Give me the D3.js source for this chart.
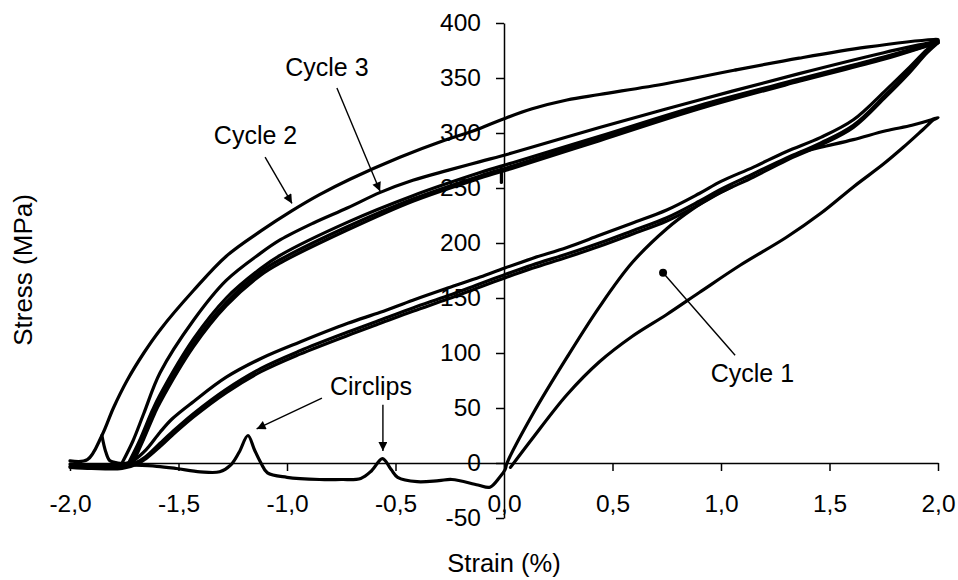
<html>
<meta charset="UTF-8">
<head>
    <title>Stress - strain cycles</title>
    <script src="https://d3js.org/d3.v7.min.js"></script>
    <style>
        body {
            margin: 0;
            background: white;
            font-family: "Liberation Sans", Arial, sans-serif;
        }
        .axis path, .axis line {
            stroke: black;
            stroke-width: 1.5px;
        }
        .axis text {
            font-family: "Liberation Sans", Arial, sans-serif;
            font-size: 24.5px;
            fill: black;
        }
        .curve {
            fill: none;
            stroke: black;
            stroke-width: 3.2px;
            stroke-linejoin: round;
            stroke-linecap: round;
        }
    </style>
</head>
<body>
    <svg id="graph" width="958" height="580"></svg>
</body>
<script>
    // ---- data : [strain %, stress MPa]
    const strainTicks = [-2, -1.5, -1, -0.5, 0, 0.5, 1, 1.5, 2];
    const stressTicks = [-50, 0, 50, 100, 150, 200, 250, 300, 350, 400];

    // first load : circlips trace along zero, then steep rise from the origin
    const initialLoading = [[-1.70,-2],[-1.60,-3],[-1.51,-5],[-1.40,-8],[-1.31,-8],[-1.26,-2],[-1.22,10],[-1.18,25],[-1.15,12],[-1.12,0],[-1.09,-9],
        [-1.0,-13],[-0.85,-15],[-0.75,-15],[-0.66,-14],[-0.61,-7],[-0.56,4],[-0.52,-6],[-0.49,-13],[-0.40,-17],[-0.30,-16],
        [-0.24,-15],[-0.12,-20],[-0.065,-22],[-0.02,-13],[0.005,-6],[0.014,0],[0.134,45],[0.29,96],[0.44,142],[0.59,182],
        [0.75,213],[0.87,231],[0.95,241],[1.05,251]];

    const cycle1 = [[0.03,-4],[0.13,22],[0.29,62],[0.44,92],[0.59,115],[0.75,135],[0.90,155],[1.09,180],[1.30,205],[1.46,227],
        [1.61,251],[1.75,272],[1.84,287],[1.93,303],[1.98,312],[2.0,314],[1.97,312],[1.88,307],[1.76,302],[1.61,294],[1.46,287],[1.36,282]];

    const cycle2Loading = [[-2.0,2],[-1.92,3],[-1.853,25],[-1.80,50],[-1.737,75],[-1.66,100],[-1.585,121],[-1.43,157],[-1.28,188],
        [-1.12,211],[-0.98,229],[-0.85,244],[-0.71,258],[-0.48,278],[-0.28,293],[-0.14,302],[0,313],[0.13,322],[0.29,330],
        [0.44,335],[0.75,345],[1.06,357],[1.36,368],[1.67,378],[1.98,385],[2.0,385]];
    const cycle2Bump = [[-1.853,25],[-1.835,10],[-1.816,2],[-1.78,0],[-1.72,-1]];

    const cycle3Loading = [[-1.76,0],[-1.71,20],[-1.66,45],[-1.585,82],[-1.43,130],[-1.28,166],[-1.12,191],[-1.03,203],[-0.88,218],
        [-0.72,232],[-0.57,246],[-0.42,257],[-0.26,266],[-0.11,274],[0.04,282],[0.44,305],[0.90,330],[1.36,354],[1.75,373],[1.98,383],[2.0,384]];

    const cycle4Loading = [[-1.73,0],[-1.68,20],[-1.62,48],[-1.585,62],[-1.43,113],[-1.28,150],[-1.12,177],[-1.03,189],[-0.72,219],
        [-0.42,243],[-0.11,264],[0.04,273],[0.44,297],[0.90,325],[1.36,349],[1.75,369],[1.98,382],[2.0,383]];
    const cycle5Loading = [[-1.72,0],[-1.67,21],[-1.62,44],[-1.585,58],[-1.43,109],[-1.28,146],[-1.12,174],[-1.03,185],[-0.72,215],
        [-0.42,240],[-0.11,261],[0.04,270],[0.44,295],[0.90,323],[1.36,348],[1.75,368],[1.98,381],[2.0,382]];
    const cycle6Loading = [[-1.71,0],[-1.66,22],[-1.61,45],[-1.585,55],[-1.43,106],[-1.28,143],[-1.12,171],[-1.03,182],[-0.72,212],
        [-0.42,238],[-0.11,259],[0.04,268],[0.44,293],[0.90,322],[1.36,347],[1.75,367],[1.98,381],[2.0,382]];
    const offsetMark = [[-0.012,268],[-0.012,255]];

    const unloadingTop = [[2.0,384],[1.95,376],[1.86,358],[1.76,339],[1.61,312],[1.46,296],[1.30,283],[1.15,269],[1.0,256],
        [0.90,245],[0.75,230],[0.59,218],[0.44,207],[0.29,196],[0.13,186],[0,177],[-0.11,169],[-0.26,159],[-0.42,148],
        [-0.57,137],[-0.72,127],[-0.94,110],[-1.12,95],[-1.28,78],[-1.43,56],[-1.53,40],[-1.585,28],[-1.65,12],[-1.71,2],
        [-1.76,-1],[-1.9,-2],[-2.0,-1]];
    const unloadingMid = [[2.0,383],[1.95,374],[1.86,355],[1.76,335],[1.61,307],[1.46,291],[1.30,277],[1.15,263],[1.0,249],
        [0.90,238],[0.75,223],[0.59,211],[0.44,200],[0.29,190],[0.13,180],[0,171],[-0.11,163],[-0.26,152],[-0.42,141],
        [-0.57,130],[-0.72,119],[-0.94,102],[-1.12,86],[-1.28,67],[-1.43,45],[-1.53,28],[-1.585,18],[-1.65,6],[-1.70,0],
        [-1.76,-3],[-1.9,-3],[-2.0,-3]];
    const unloadingLow = [[2.0,382],[1.95,373],[1.86,353],[1.76,333],[1.61,305],[1.46,289],[1.30,275],[1.15,260],[1.0,246],
        [0.90,235],[0.75,220],[0.59,208],[0.44,197],[0.29,187],[0.13,177],[0,168],[-0.11,160],[-0.26,149],[-0.42,138],
        [-0.57,127],[-0.72,116],[-0.94,99],[-1.12,83],[-1.28,64],[-1.43,42],[-1.53,25],[-1.585,15],[-1.65,4],[-1.69,-1],
        [-1.76,-5],[-1.9,-5],[-2.0,-4]];

    const allCurves = [initialLoading, cycle1, cycle2Loading, cycle2Bump, cycle3Loading, cycle4Loading,
        cycle5Loading, cycle6Loading, offsetMark, unloadingTop, unloadingMid, unloadingLow];

    // ---- layout
    const g = d3.select("svg#graph");
    const xScale = d3.scaleLinear().domain([-2, 2]).range([70, 938]);
    const yScale = d3.scaleLinear().domain([-50, 400]).range([518, 23]);
    const fmt = d => d.toFixed(1).replace(".", ",");

    let annotations = g.append("g").attr("id", "annotations");
    let chartArea = g.append("g").attr("id", "curves");

    // axes cross at 0,0
    let bottomAxis = d3.axisBottom(xScale)
        .tickValues(strainTicks)
        .tickFormat(fmt)
        .tickSize(8)
        .tickSizeOuter(0)
        .tickPadding(24);
    annotations.append("g")
        .attr("class", "x axis")
        .attr("transform", `translate(0,${yScale(0)})`)
        .call(bottomAxis);

    let leftAxis = d3.axisLeft(yScale)
        .tickValues(stressTicks)
        .tickFormat(d => String(d))
        .tickSize(8)
        .tickSizeOuter(0)
        .tickPadding(15);
    annotations.append("g")
        .attr("class", "y axis")
        .attr("transform", `translate(${xScale(0)},0)`)
        .call(leftAxis);

    // axis titles
    g.append("text")
        .attr("x", xScale(0))
        .attr("y", 572)
        .attr("text-anchor", "middle")
        .attr("font-size", "25.5px")
        .text("Strain (%)");
    g.append("text")
        .attr("transform", `translate(32,270) rotate(-90)`)
        .attr("text-anchor", "middle")
        .attr("font-size", "26px")
        .text("Stress (MPa)");

    // curves
    const line = d3.line()
        .x(d => xScale(d[0]))
        .y(d => yScale(d[1]))
        .curve(d3.curveCatmullRom.alpha(0.5));

    chartArea.selectAll("path.curve")
        .data(allCurves)
        .join("path")
        .attr("class", "curve")
        .attr("d", line);

    // arrow head
    g.append("defs").append("marker")
        .attr("id", "head")
        .attr("viewBox", "0 0 10 10")
        .attr("refX", 10)
        .attr("refY", 5)
        .attr("markerUnits", "userSpaceOnUse")
        .attr("markerWidth", 12)
        .attr("markerHeight", 9)
        .attr("orient", "auto")
        .append("path")
        .attr("d", "M0,0 L10,5 L0,10 z")
        .attr("fill", "black");

    // labels
    const labels = [
        {text: "Cycle 3", at: [-0.816, 352], from: [-0.77, 341], to: [-0.571, 247], head: true},
        {text: "Cycle 2", at: [-1.145, 290], from: [-1.101, 278], to: [-0.977, 236], head: true},
        {text: "Circlips", at: [-0.613, 62], from: [-0.839, 59], to: [-1.14, 31], head: true},
        {text: "", at: [-0.558, 62], from: [-0.558, 53], to: [-0.558, 11], head: true},
        {text: "Cycle 1", at: [1.145, 74], from: [1.065, 98], to: [0.733, 173], head: false}
    ];
    const lab = g.append("g").attr("id", "labels");
    labels.forEach(l => {
        if (l.text) {
            lab.append("text")
                .attr("x", xScale(l.at[0]))
                .attr("y", yScale(l.at[1]))
                .attr("text-anchor", "middle")
                .attr("font-size", "25px")
                .text(l.text);
        }
        lab.append("line")
            .attr("x1", xScale(l.from[0]))
            .attr("y1", yScale(l.from[1]))
            .attr("x2", xScale(l.to[0]))
            .attr("y2", yScale(l.to[1]))
            .attr("stroke", "black")
            .attr("stroke-width", 1.4)
            .attr("marker-end", l.head ? "url(#head)" : null);
        if (!l.head) {
            lab.append("circle")
                .attr("cx", xScale(l.to[0]))
                .attr("cy", yScale(l.to[1]))
                .attr("r", 4)
                .attr("fill", "black");
        }
    });
</script>
</html>
